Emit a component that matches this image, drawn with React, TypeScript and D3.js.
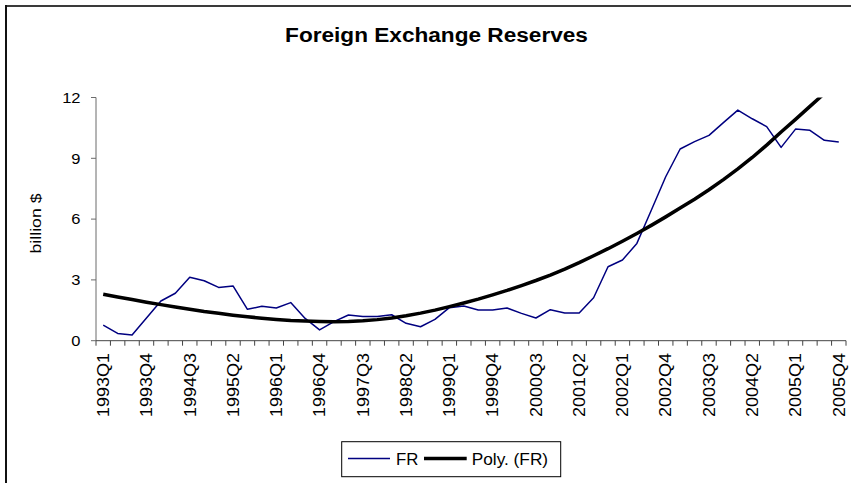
import React from "react";
import * as d3 from "d3";

const years = [1993, 1994, 1995, 1996, 1997, 1998, 1999, 2000, 2001, 2002, 2003, 2004, 2005];
const quarterNames = ["Q1", "Q2", "Q3", "Q4"];
const categories: string[] = years.flatMap((y) => quarterNames.map((q) => `${y}${q}`));

const frValues = [
  0.77, 0.36, 0.28, 1.12, 1.96, 2.34, 3.13, 2.96, 2.63, 2.70,
  1.55, 1.70, 1.61, 1.88, 1.10, 0.53, 0.94, 1.27, 1.19, 1.19,
  1.28, 0.86, 0.69, 1.05, 1.63, 1.71, 1.51, 1.51, 1.61, 1.35,
  1.12, 1.53, 1.37, 1.37, 2.12, 3.65, 3.98, 4.80, 6.44, 8.09,
  9.46, 9.82, 10.13, 10.76, 11.38, 10.95, 10.56, 9.54, 10.44, 10.38,
  9.89, 9.80,
];

const polyValues = [
  2.29, 2.16, 2.03, 1.90, 1.78, 1.66, 1.55, 1.44, 1.35, 1.26,
  1.18, 1.11, 1.05, 1.00, 0.97, 0.95, 0.94, 0.95, 0.98, 1.04,
  1.12, 1.23, 1.36, 1.51, 1.68, 1.86, 2.05, 2.26, 2.48, 2.72,
  2.97, 3.24, 3.53, 3.85, 4.19, 4.54, 4.91, 5.29, 5.69, 6.11,
  6.55, 6.98, 7.45, 7.95, 8.48, 9.04, 9.65, 10.30, 10.92, 11.56,
  12.20, 12.85,
];

const yTicks = [0, 3, 6, 9, 12];
const labelEvery = 3;

const W = 851;
const H = 483;
const FONT = "'Liberation Sans', Arial, Helvetica, sans-serif";

export default function App() {
  const left = 96;
  const right = 846;
  const top = 97.5;
  const bottom = 340.7;

  const x = d3.scaleBand<string>().domain(categories).range([left, right]).padding(0);
  const bw = x.bandwidth();
  const cx = (c: string) => (x(c) as number) + bw / 2;
  const y = d3.scaleLinear().domain([0, 12]).range([bottom, top]);

  const line = d3
    .line<number>()
    .x((_, i) => cx(categories[i]))
    .y((d) => y(d));

  const boundaries = d3.range(categories.length + 1).map((i) => left + i * bw);
  const axisColor = "#6b6b6b";

  return (
    <svg
      width={W}
      height={H}
      style={{ position: "absolute", left: 0, top: 0, background: "#fff" }}
      fontFamily={FONT}
    >
      <defs>
        <clipPath id="plotClip">
          <rect x={left} y={top} width={right - left} height={bottom - top} />
        </clipPath>
      </defs>
      <rect x={0} y={0} width={W} height={H} fill="#fff" />
      {/* chart frame */}
      <line x1={6} y1={6} x2={W + 5} y2={6} stroke="#3a3a3a" strokeWidth={2} />
      <line x1={6} y1={5} x2={6} y2={H + 5} stroke="#111" strokeWidth={2} />

      {/* title */}
      <text
        transform={`translate(436.5,41.7) scale(1.16,1)`}
        textAnchor="middle"
        fontSize={19.5}
        fontWeight="bold"
        fill="#000"
      >
        Foreign Exchange Reserves
      </text>

      {/* y axis */}
      <line x1={left} y1={top} x2={left} y2={bottom} stroke={axisColor} strokeWidth={1} />
      {yTicks.map((t) => (
        <g key={t}>
          <line x1={left - 5} x2={left} y1={y(t)} y2={y(t)} stroke={axisColor} />
          <text
            transform={`translate(80.5,${y(t)}) scale(1.14,1)`}
            textAnchor="end"
            dy="0.36em"
            fontSize={14.5}
            fill="#000"
          >
            {t}
          </text>
        </g>
      ))}
      <text
        transform={`translate(36,223.5) rotate(-90) scale(1.22,1)`}
        textAnchor="middle"
        dy="0.35em"
        fontSize={14.5}
        fill="#000"
      >
        billion $
      </text>

      {/* x axis */}
      <line x1={left} y1={bottom} x2={right} y2={bottom} stroke="#444" strokeWidth={1} />
      {boundaries.map((bx, i) => (
        <line key={i} x1={bx} x2={bx} y1={bottom} y2={bottom + 5} stroke="#444" />
      ))}
      {categories.map((c, i) =>
        i % labelEvery === 0 ? (
          <text
            key={c}
            transform={`translate(${cx(c)},353) rotate(-90) scale(1.125,1)`}
            textAnchor="end"
            dy="0.36em"
            fontSize={16}
            fill="#000"
          >
            {c}
          </text>
        ) : null
      )}

      {/* series */}
      <g clipPath="url(#plotClip)">
        <path d={line(frValues) || ""} fill="none" stroke="#000080" strokeWidth={1.5} strokeLinejoin="round" />
        <path d={line(polyValues) || ""} fill="none" stroke="#000" strokeWidth={3.5} strokeLinejoin="round" />
      </g>

      {/* legend */}
      <rect x={341.7} y={441.7} width={219} height={35} fill="#fff" stroke="#000" strokeWidth={1} />
      <line x1={348} x2={390} y1={458.5} y2={458.5} stroke="#000080" strokeWidth={1.5} />
      <text transform="translate(396,464.5) scale(1.05,1)" fontSize={16} fill="#000">
        FR
      </text>
      <line x1={424} x2={466.7} y1={458.5} y2={458.5} stroke="#000" strokeWidth={3.5} />
      <text transform="translate(471.7,464.5) scale(1.08,1)" fontSize={16} fill="#000">
        Poly. (FR)
      </text>
    </svg>
  );
}
